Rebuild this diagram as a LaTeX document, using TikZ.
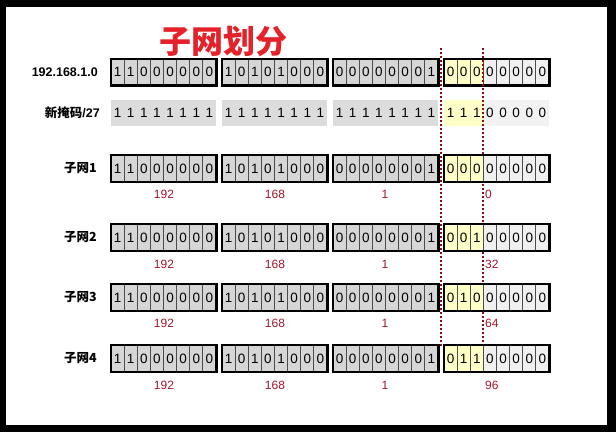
\documentclass[tikz,border=0pt]{standalone}
\usepackage{fontspec}
\setmainfont{Liberation Sans}
\newfontfamily\cjk{Noto Sans CJK SC}
\definecolor{cgray}{HTML}{D6D6D6}
\definecolor{clight}{HTML}{F0F0F0}
\definecolor{ylw}{HTML}{FFFFC8}
\definecolor{mgray}{HTML}{DCDCDC}
\definecolor{mlight}{HTML}{F2F2F2}
\definecolor{titlered}{HTML}{E52229}
\definecolor{numred}{HTML}{A0172E}
\definecolor{dotred}{HTML}{8E0E0E}
\tikzset{
  cellbase/.style={minimum width=13.125pt, minimum height=26pt, inner sep=0pt,
    text height=9.5pt, text depth=0pt, font=\fontsize{13.5}{13.5}\selectfont},
  cell/.style={cellbase, draw=black!70, line width=0.8pt},
  mcell/.style={cellbase},
  outer/.style={draw=black, line width=2.2pt},
  rowlab/.style={anchor=east, inner sep=0pt, font=\bfseries\fontsize{12.5}{12.5}\selectfont},
  num/.style={inner sep=0pt, text=numred, font=\fontsize{12}{12}\selectfont},
  cut/.style={draw=dotred, line width=2pt, dash pattern=on 2pt off 2pt},
}
\newcommand\bytebox[6]{%
  \foreach \b [count=\i] in {#4}{%
    \ifnum\i>#5\relax\def\cc{#6}\else\def\cc{ylw}\fi
    \node[cell, fill=\cc] (#1c\i) at ({#2+(\i-0.5)*13.125}, #3) {\b};
  }
  \draw[outer] (#1c1.north west) rectangle (#1c8.south east);
}
\newcommand\iprow[3]{%
  \bytebox{#1a}{111}{#2}{1,1,0,0,0,0,0,0}{0}{cgray}
  \bytebox{#1b}{222}{#2}{1,0,1,0,1,0,0,0}{0}{cgray}
  \bytebox{#1c}{333}{#2}{0,0,0,0,0,0,0,1}{0}{cgray}
  \bytebox{#1d}{444}{#2}{#3}{3}{clight}
}
\newcommand\numrow[3]{%
  \node[num] (#1n1) at (164,#2) {192};
  \node[num] (#1n2) at (275,#2) {168};
  \node[num] (#1n3) at (385,#2) {1};
  \node[num, anchor=west] (#1n4) at (485,#2) {#3};
}
\begin{document}
\begin{tikzpicture}[x=1pt, y=-1pt]
\useasboundingbox (0,0) rectangle (616,432);
\fill[black] (0,0) rectangle (616,432);
\fill[white] (6,7) rectangle (607,425);

\node[text=titlered, inner sep=0pt, font=\cjk\bfseries\fontsize{32}{32}\selectfont] (title) at (223.5,41) {子网划分};

% IP row
\node[rowlab] (iplab) at (98,72) {192.168.1.0};
\iprow{ip}{72}{0,0,0,0,0,0,0,0}

% mask row
\node[rowlab] (masklab) at (100,113) {{\cjk\bfseries 新掩码}/27};
\foreach \k/\xl in {a/111,b/222,c/333}{
  \foreach \i in {1,...,8}{
    \node[mcell, fill=mgray] (m\k c\i) at ({\xl+(\i-0.5)*13.125}, 113) {1};
  }
}
\foreach \i in {1,2,3}{
  \node[mcell, fill=ylw] (mdc\i) at ({444+(\i-0.5)*13.125}, 113) {1};
}
\foreach \i in {4,...,8}{
  \node[mcell, fill=mlight] (mdc\i) at ({444+(\i-0.5)*13.125}, 113) {0};
}

% cut lines
\coordinate (cutLtop) at (440.5,48);
\coordinate (cutLbot) at (440.5,347);
\coordinate (cutRtop) at (482.5,48);
\coordinate (cutRbot) at (482.5,346);
\draw[cut] (cutLtop) -- (cutLbot);
\draw[cut] (cutRtop) -- (cutRbot);

% subnets
\node[rowlab] (s1lab) at (97,168.5) {\cjk\bfseries 子网1};
\iprow{sa}{168.5}{0,0,0,0,0,0,0,0}
\numrow{sa}{194}{0}

\node[rowlab] (s2lab) at (97,237.5) {\cjk\bfseries 子网2};
\iprow{sb}{237.5}{0,0,1,0,0,0,0,0}
\numrow{sb}{264}{32}

\node[rowlab] (s3lab) at (97,297.5) {\cjk\bfseries 子网3};
\iprow{sc}{297.5}{0,1,0,0,0,0,0,0}
\numrow{sc}{323.5}{64}

\node[rowlab] (s4lab) at (97,358.5) {\cjk\bfseries 子网4};
\iprow{sd}{358.5}{0,1,1,0,0,0,0,0}
\numrow{sd}{385}{96}
\end{tikzpicture}
\end{document}
